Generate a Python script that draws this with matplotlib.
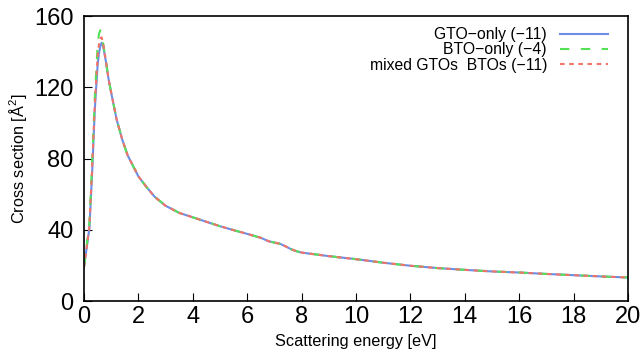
import numpy as np
import matplotlib
matplotlib.use('Agg')
import matplotlib.pyplot as plt

plt.rcParams['font.family'] = ['Liberation Sans', 'DejaVu Sans']
plt.rcParams['mathtext.fontset'] = 'custom'
plt.rcParams['mathtext.rm'] = 'Liberation Sans'

# Dane
energia = [0, 0.1, 0.2, 0.3, 0.4, 0.5, 0.55, 0.6, 0.65, 0.7, 0.8, 0.9, 1.0,
           1.2, 1.4, 1.6, 1.8, 2.0, 2.3, 2.6, 3.0, 3.5, 4.0, 4.5, 5.0, 5.5,
           6.0, 6.5, 6.8, 7.0, 7.2, 7.4, 7.6, 7.8, 8.0, 8.5, 9.0, 10, 11, 12,
           13, 14, 15, 16, 17, 18, 19, 20]

ogon = [117, 102, 91, 82, 76, 70, 64, 58.5, 53.5, 49.5, 47, 44.5, 42, 39.8,
        37.7, 35.5, 33.5, 32.8, 32.2, 30.8, 29.2, 28, 27.2, 26.2, 25.2, 23.5,
        21.5, 19.8, 18.5, 17.5, 16.6, 16, 15.2, 14.5, 13.8, 13.2]

gto_only = [19, 30, 41, 72, 108, 132, 139, 143, 145, 143.5, 135, 125] + ogon
bto_only = [19, 31, 44, 78, 115, 143, 150, 152, 149, 145, 136, 125] + ogon
mixed = [19, 30, 42, 75, 111, 137, 144, 147.5, 148, 145, 135.5, 125] + ogon

etykiety = ['GTO\u2212only (\u221211)', 'BTO\u2212only (\u22124)',
            'mixed GTOs  BTOs (\u221211)']

fig = plt.figure(figsize=(6.44, 3.5), dpi=100)
ax = fig.add_axes([0.1304, 0.14, 0.975 - 0.1304, 0.954 - 0.14])

ax.plot(energia, gto_only, color='#6a8ee8', lw=1.5, label=etykiety[0])
ax.plot(energia, bto_only, color='#55e055', lw=1.5, dashes=(4.5, 5.5),
        label=etykiety[1])
ax.plot(energia, mixed, color='#f27468', lw=1.5, dashes=(2.2, 2.2),
        label=etykiety[2])

ax.set_xlim(0, 20)
ax.set_ylim(0, 160)
ax.set_xticks(np.arange(0, 21, 2))
ax.set_yticks([0, 40, 80, 120, 160])
ax.tick_params(direction='in', length=5.5, width=0.8, labelsize=17,
               top=False, right=False)
ax.tick_params(axis='x', pad=3.5)
ax.tick_params(axis='y', pad=7.5)
for s in ax.spines.values():
    s.set_linewidth(1.2)

ax.set_xlabel('Scattering energy [eV]', fontsize=11.7, labelpad=4.5)
ax.set_ylabel('Cross section [Å$^2$]', fontsize=11.7, labelpad=3.5)

ax.legend(loc='upper right', frameon=False, markerfirst=False, fontsize=11.3,
          handlelength=3.06, handletextpad=0.83, labelspacing=0.02,
          borderaxespad=0, borderpad=0,
          bbox_to_anchor=(608 / 644, 1 - 27 / 350),
          bbox_transform=fig.transFigure)

fig.savefig('out.png', dpi=100)
